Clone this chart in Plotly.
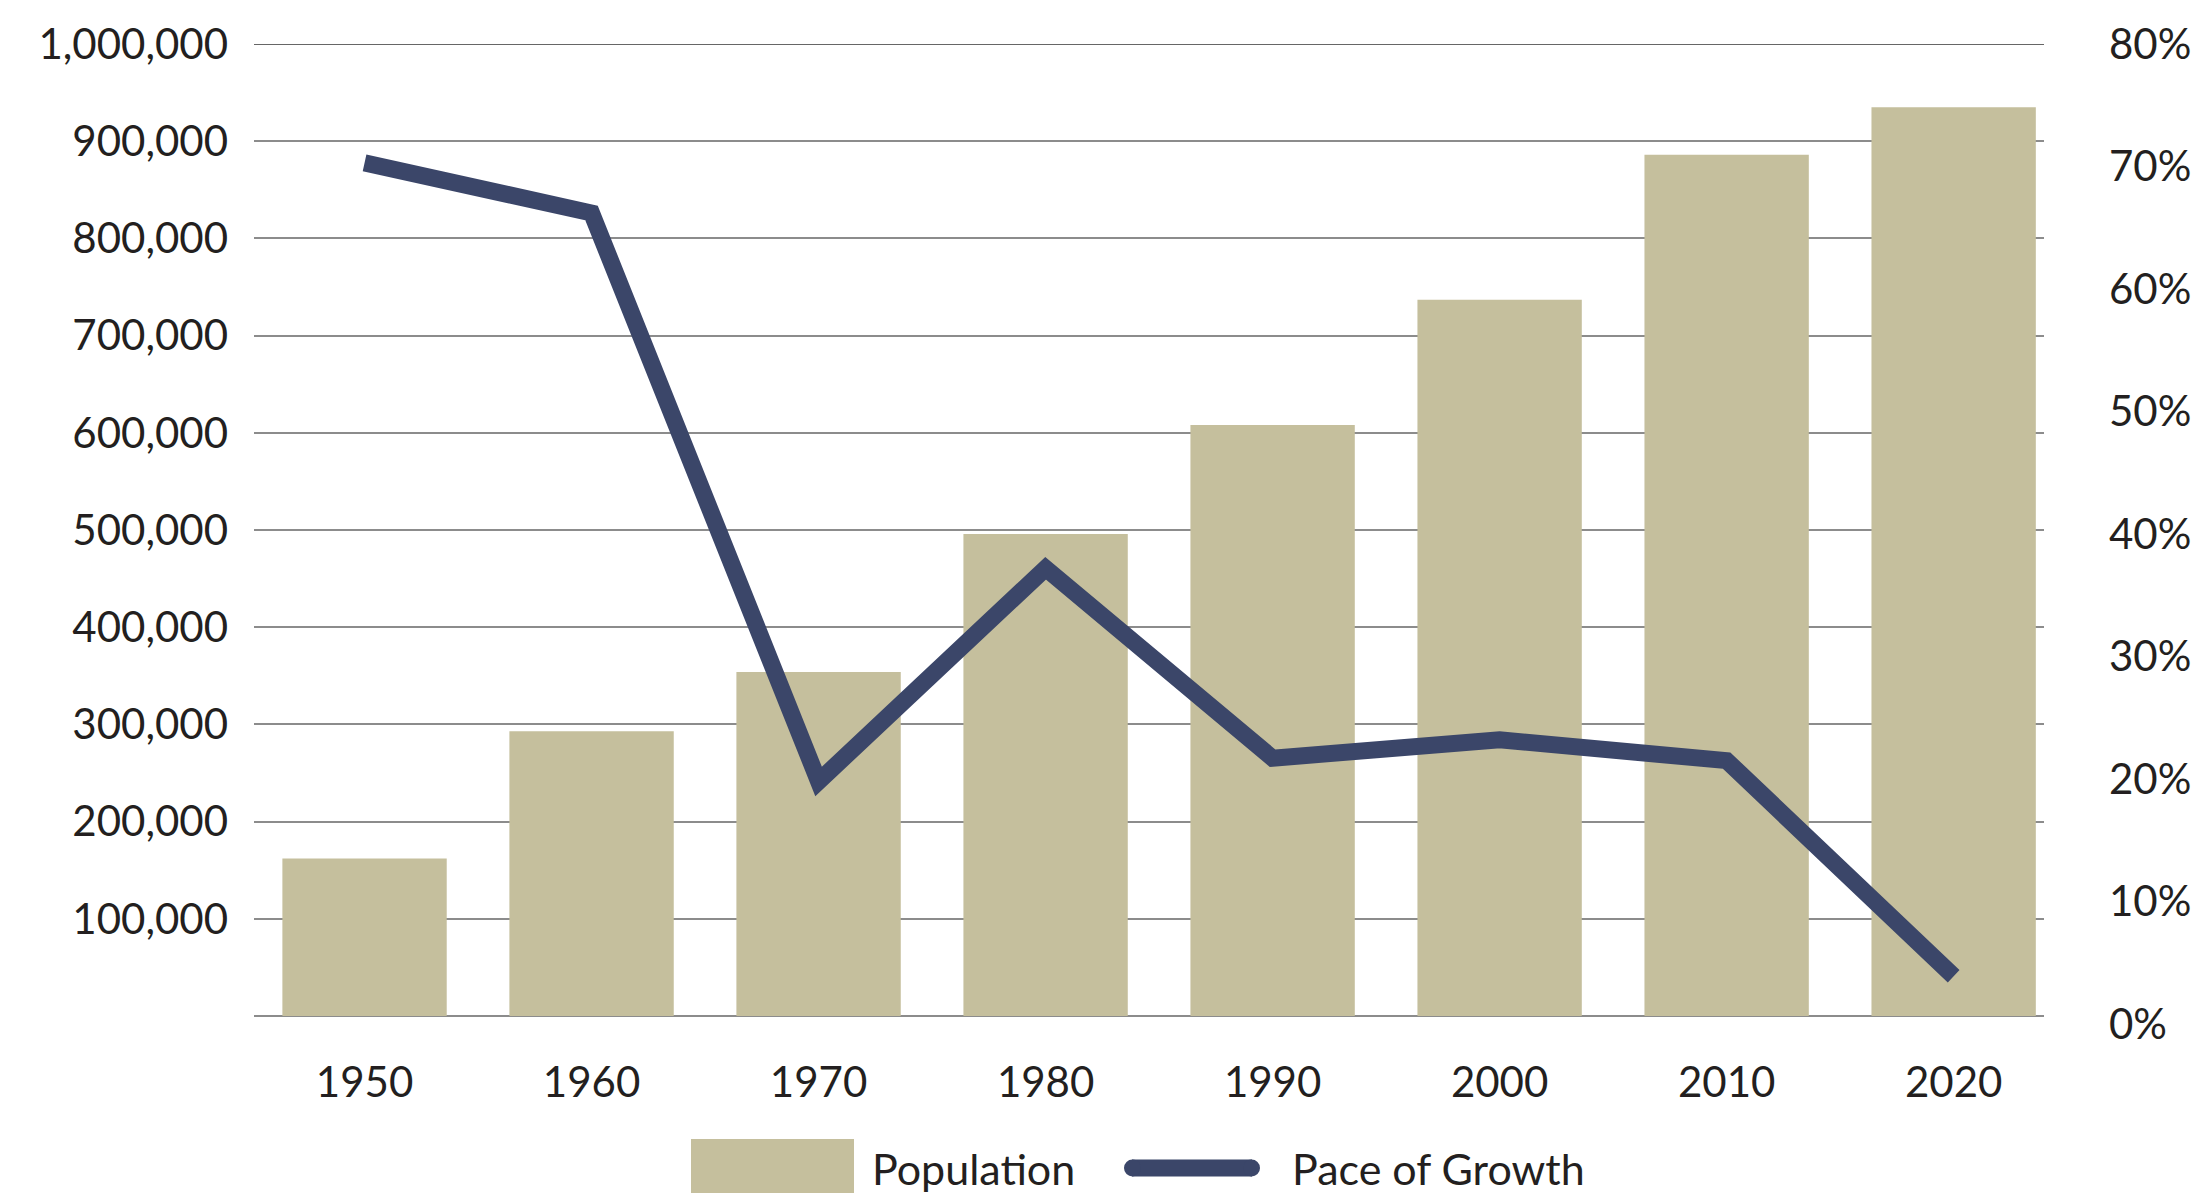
import plotly.graph_objects as go

years = ["1950", "1960", "1970", "1980", "1990", "2000", "2010", "2020"]
population = [162000, 293000, 354000, 496000, 608000, 737000, 886000, 935000]
pace_of_growth = [70.3, 66.2, 19.8, 37.2, 21.7, 23.2, 21.5, 3.9]

left_ticks = [0, 100000, 200000, 300000, 400000, 500000, 600000, 700000, 800000, 900000, 1000000]
left_ticktext = ["", "100,000", "200,000", "300,000", "400,000", "500,000", "600,000",
                 "700,000", "800,000", "900,000", "1,000,000"]
right_ticks = [0, 10, 20, 30, 40, 50, 60, 70, 80]
right_ticktext = ["0%", "10%", "20%", "30%", "40%", "50%", "60%", "70%", "80%"]

BAR = "#c5bf9d"
LINE = "#3b4669"
TXT = "#231f20"
FONT = "Lato"

W, H = 2203, 1193
L, R, T, B = 254, 159, 44, 169
PW = W - L - R
PH = H - T - B


def px(x):
    return (x - L) / PW


def py(y):
    return (H - B - y) / PH


fig = go.Figure()
fig.add_trace(go.Bar(x=years, y=population, name="Population", marker_color=BAR,
                     marker_line_width=0, showlegend=False))
fig.add_trace(go.Scatter(x=years, y=pace_of_growth, name="Pace of Growth", yaxis="y2",
                         mode="lines", line=dict(color=LINE, width=17), showlegend=False))

# top and bottom dark lines
for yv in [0, 1000000]:
    fig.add_shape(type="line", xref="paper", x0=0, x1=1, yref="y", y0=yv, y1=yv,
                  line=dict(color="#333333", width=1.5), layer="below")

# custom legend
fig.add_shape(type="rect", xref="paper", yref="paper",
              x0=px(691), x1=px(854), y0=py(1139), y1=py(1193),
              fillcolor=BAR, line_width=0)
fig.add_shape(type="line", xref="paper", yref="paper",
              x0=px(1132), x1=px(1252), y0=py(1168), y1=py(1168),
              line=dict(color=LINE, width=17))
fig.add_shape(type="circle", xref="paper", yref="paper",
              x0=px(1124), x1=px(1141), y0=py(1176.5), y1=py(1159.5),
              fillcolor=LINE, line_width=0)
fig.add_shape(type="circle", xref="paper", yref="paper",
              x0=px(1243), x1=px(1260), y0=py(1176.5), y1=py(1159.5),
              fillcolor=LINE, line_width=0)
fig.add_annotation(xref="paper", yref="paper", x=px(870), y=py(1168),
                   text="Population", showarrow=False, xanchor="left", yanchor="middle",
                   font=dict(family=FONT, size=43, color=TXT))
fig.add_annotation(xref="paper", yref="paper", x=px(1290), y=py(1168),
                   text="Pace of Growth", showarrow=False, xanchor="left", yanchor="middle",
                   font=dict(family=FONT, size=43, color=TXT))

fig.update_layout(
    width=W, height=H,
    margin=dict(l=L, r=R, t=T, b=B),
    plot_bgcolor="white", paper_bgcolor="white",
    bargap=0.276,
    font=dict(family=FONT, size=42, color=TXT),
    xaxis=dict(type="category", range=[-0.487, 7.398], showgrid=False, showline=False,
               ticks="", ticklabelstandoff=30, tickfont=dict(size=42, color=TXT)),
    yaxis=dict(range=[-8230, 1000000], tickvals=left_ticks, ticktext=left_ticktext,
               showgrid=True, gridcolor="#8c8c8c", gridwidth=1.5, zeroline=False,
               showline=False, ticks="", ticklabelstandoff=25,
               tickfont=dict(size=42, color=TXT)),
    yaxis2=dict(range=[0, 80], overlaying="y", side="right", tickvals=right_ticks,
                ticktext=right_ticktext, showgrid=False, zeroline=False, showline=False,
                ticks="", ticklabelstandoff=64, tickfont=dict(size=42, color=TXT)),
    showlegend=False,
)

fig.write_html("out.html", config={"displayModeBar": False},
               post_script="document.body.style.margin='0';document.body.style.overflow='hidden';")
